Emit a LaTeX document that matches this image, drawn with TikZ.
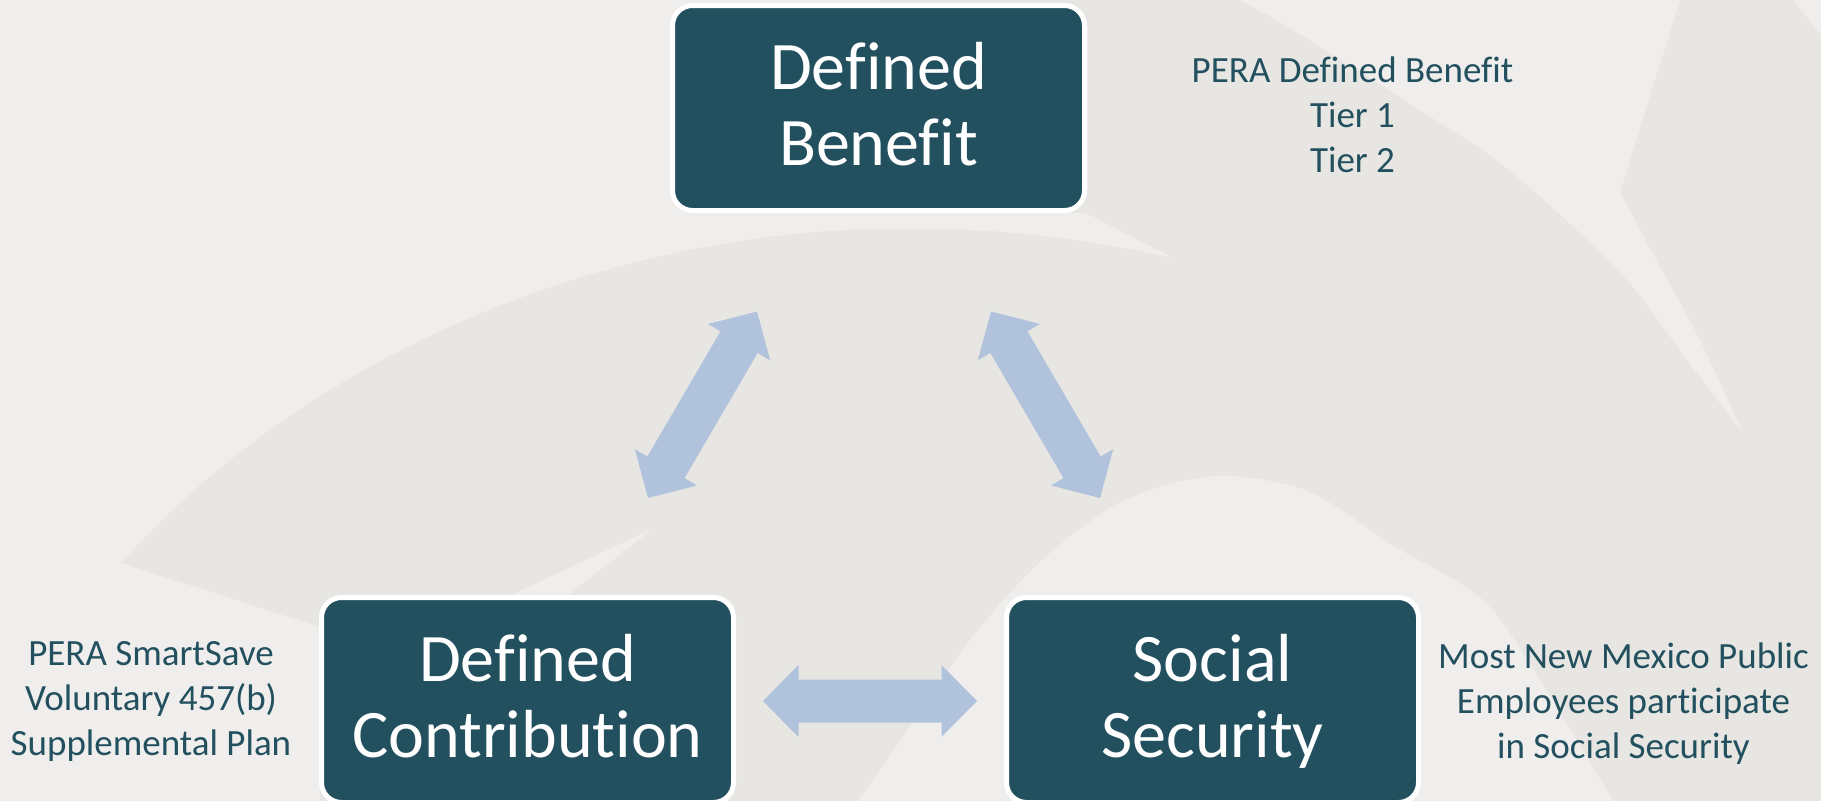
\documentclass[tikz,border=0pt]{standalone}
\usepackage{fontspec}
\setmainfont{Carlito}[Ligatures=NoCommon]
\usetikzlibrary{calc}
\definecolor{bglight}{HTML}{EFEEEC}
\definecolor{bgdark}{HTML}{E7E6E2}
\definecolor{boxteal}{HTML}{23505F}
\definecolor{arrowblue}{HTML}{B1C2DD}
\newcommand{\pensionarrow}[2]{%
  \coordinate (h1) at ($(#1)!35.5pt!(#2)$);
  \coordinate (h2) at ($(#2)!35.5pt!(#1)$);
  \fill[arrowfill] (#1)
    -- ($(h1)!36pt!90:(#2)$) -- ($(h1)!21.5pt!90:(#2)$)
    -- ($(h2)!21.5pt!-90:(#1)$) -- ($(h2)!36pt!-90:(#1)$)
    -- (#2)
    -- ($(h2)!36pt!90:(#1)$) -- ($(h2)!21.5pt!90:(#1)$)
    -- ($(h1)!21.5pt!-90:(#2)$) -- ($(h1)!36pt!-90:(#2)$)
    -- cycle;}
\begin{document}
\begin{tikzpicture}[x=1pt,y=-1pt,
  box/.style={rounded corners=20pt, draw=white, line width=5pt, fill=boxteal,
    minimum width=412pt, minimum height=205pt, text=white,
    font=\fontsize{68}{76}\selectfont, align=center,
    text height=123pt, text depth=9pt, inner sep=0pt},
  note/.style={text=boxteal, font=\fontsize{37}{45}\selectfont, align=center,
    text height=117pt, text depth=0pt, inner sep=0pt},
  arrowfill/.style={fill=arrowblue}]
\useasboundingbox (0,0) rectangle (1821,801);
% background
\fill[bgdark] (0,0) rectangle (1821,801);
\begin{scope}
\clip (0,0) rectangle (1821,801);
\fill[bglight] (1173,258) .. controls (1090,240) and (1010,229) .. (930,229)
  .. controls (640,220) and (320,340) .. (121,563)
  -- (320,627) -- (320,801) -- (0,801) -- (0,0) -- (880,0) -- (880,213) -- (1086,213) -- cycle;
\fill[bglight] plot[smooth] coordinates {(1240,0) (1293,30) (1420,110) (1500,163) (1580,233) (1633,287) (1687,360) (1743,433)}
  -- plot[smooth] coordinates {(1743,433) (1700,340) (1660,267) (1620,192)} -- (1680,0) -- cycle;
\fill[bglight] (1793,0) -- (1821,0) -- (1821,35) -- cycle;
\fill[bglight] plot[smooth] coordinates {(858,801) (887,760) (970,640) (1040,562) (1110,508) (1170,484) (1231,476) (1310,492) (1394,546) (1483,600) (1540,680) (1613,801)} -- cycle;
\fill[bglight] (654,528) -- (490,605) -- (555,605) -- cycle;
\end{scope}
% arrows
\coordinate (a1) at (757,311.5);
\coordinate (a2) at (648,498);
\coordinate (b1) at (991,311.5);
\coordinate (b2) at (1100,498);
\coordinate (c1) at (763,701);
\coordinate (c2) at (977,701);
\pensionarrow{a1}{a2}
\pensionarrow{b1}{b2}
\pensionarrow{c1}{c2}
% boxes
\node[box] (db) at (878.5,108) {Defined\\Benefit};
\node[box] (dc) at (527.5,700) {Defined\\Contribution};
\node[box] (ss) at (1212.5,700) {Social\\Security};
% notes
\node[note] (dbnote) at (1352.5,113.5) {PERA Defined Benefit\\Tier 1\\Tier 2};
\node[note] (dcnote) at (151,696.5) {PERA SmartSave\\Voluntary 457(b)\\Supplemental Plan};
\node[note] (ssnote) at (1623.5,700) {Most New Mexico Public\\Employees participate\\in Social Security};
\end{tikzpicture}
\end{document}
